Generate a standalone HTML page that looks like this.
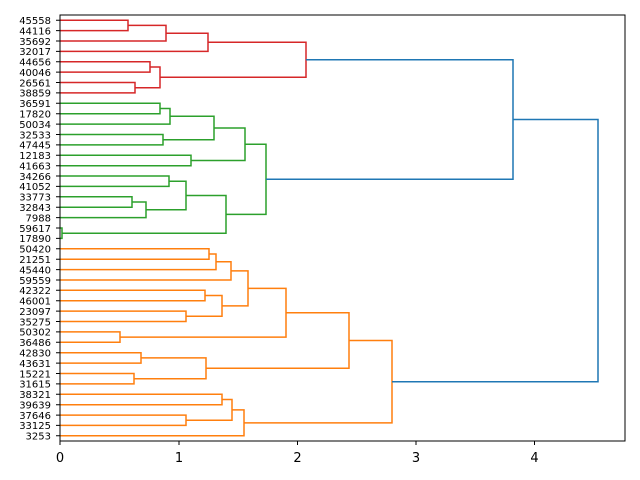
<!DOCTYPE html>
<html><head><meta charset="utf-8"><style>body{margin:0;background:#fff}svg{display:block}</style></head><body>
<svg width="640" height="480" xmlns="http://www.w3.org/2000/svg" font-family="DejaVu Sans, Liberation Sans, sans-serif">
<rect width="640" height="480" fill="#fff"/>
<g fill="none" stroke-width="1.5">
<g stroke="#d62728">
<path d="M60 20.2H128V30.6H60"/>
<path d="M128 25.4H166V41H60"/>
<path d="M166 33.2H208V51.4H60"/>
<path d="M60 61.8H150V72.1H60"/>
<path d="M60 82.5H135V92.9H60"/>
<path d="M150 66.95H160V87.7H135"/>
<path d="M208 42.3H306V77.3H160"/>
</g>
<g stroke="#2ca02c">
<path d="M60 103.3H160V113.7H60"/>
<path d="M160 108.5H170V124.1H60"/>
<path d="M60 134.5H163V144.9H60"/>
<path d="M170 116.3H214V139.7H163"/>
<path d="M60 155.3H191V165.7H60"/>
<path d="M214 128H245V160.5H191"/>
<path d="M60 176H169V186.4H60"/>
<path d="M60 196.8H132V207.2H60"/>
<path d="M132 202H146V217.6H60"/>
<path d="M169 181.2H186V209.8H146"/>
<path d="M60 228H62V238.4H60"/>
<path d="M186 195.5H226V233.2H62"/>
<path d="M245 144.25H266V214.35H226"/>
</g>
<g stroke="#ff7f0e">
<path d="M60 248.8H209V259.2H60"/>
<path d="M209 254H216V269.6H60"/>
<path d="M216 261.8H231V280H60"/>
<path d="M60 290.3H205V300.7H60"/>
<path d="M60 311.1H186V321.5H60"/>
<path d="M205 295.5H222V316.3H186"/>
<path d="M231 270.9H248V305.9H222"/>
<path d="M60 331.9H120V342.3H60"/>
<path d="M248 288.4H286V337.1H120"/>
<path d="M60 352.7H141V363.1H60"/>
<path d="M60 373.5H134V383.9H60"/>
<path d="M141 357.9H206V378.7H134"/>
<path d="M286 312.75H349V368.3H206"/>
<path d="M60 394.3H222V404.7H60"/>
<path d="M60 415.1H186V425.4H60"/>
<path d="M222 399.5H232V420.25H186"/>
<path d="M232 409.9H244V435.8H60"/>
<path d="M349 340.5H392V422.85H244"/>
</g>
<g stroke="#1f77b4">
<path d="M306 59.8H513V179.3H266"/>
<path d="M513 119.55H598V381.7H392"/>
</g>
</g>
<rect x="60" y="15" width="565" height="426" fill="none" stroke="#000" stroke-width="1"/>
<g stroke="#000" stroke-width="1">
<path d="M60 441v4M179 441v4M297.5 441v4M416 441v4M534.5 441v4"/>
</g>
<g font-size="13" text-anchor="middle" fill="#000">
<text x="60" y="462">0</text><text x="179" y="462">1</text><text x="297.5" y="462">2</text><text x="416" y="462">3</text><text x="534.5" y="462">4</text>
</g>
<g stroke="#000" stroke-width="1">
<path d="M56 20.2h4M56 30.6h4M56 41h4M56 51.4h4M56 61.8h4M56 72.1h4M56 82.5h4M56 92.9h4M56 103.3h4M56 113.7h4M56 124.1h4M56 134.5h4M56 144.9h4M56 155.3h4M56 165.7h4M56 176h4M56 186.4h4M56 196.8h4M56 207.2h4M56 217.6h4M56 228h4M56 238.4h4M56 248.8h4M56 259.2h4M56 269.6h4M56 280h4M56 290.3h4M56 300.7h4M56 311.1h4M56 321.5h4M56 331.9h4M56 342.3h4M56 352.7h4M56 363.1h4M56 373.5h4M56 383.9h4M56 394.3h4M56 404.7h4M56 415.1h4M56 425.4h4M56 435.8h4"/>
</g>
<g font-size="10" text-anchor="end" fill="#000">
<text x="51" y="24">45558</text><text x="51" y="34.4">44116</text><text x="51" y="44.8">35692</text><text x="51" y="55.2">32017</text><text x="51" y="65.6">44656</text><text x="51" y="75.9">40046</text><text x="51" y="86.3">26561</text><text x="51" y="96.7">38859</text><text x="51" y="107.1">36591</text><text x="51" y="117.5">17820</text><text x="51" y="127.9">50034</text><text x="51" y="138.3">32533</text><text x="51" y="148.7">47445</text><text x="51" y="159.1">12183</text><text x="51" y="169.5">41663</text><text x="51" y="179.8">34266</text><text x="51" y="190.2">41052</text><text x="51" y="200.6">33773</text><text x="51" y="211">32843</text><text x="51" y="221.4">7988</text><text x="51" y="231.8">59617</text><text x="51" y="242.2">17890</text><text x="51" y="252.6">50420</text><text x="51" y="263">21251</text><text x="51" y="273.4">45440</text><text x="51" y="283.8">59559</text><text x="51" y="294.1">42322</text><text x="51" y="304.5">46001</text><text x="51" y="314.9">23097</text><text x="51" y="325.3">35275</text><text x="51" y="335.7">50302</text><text x="51" y="346.1">36486</text><text x="51" y="356.5">42830</text><text x="51" y="366.9">43631</text><text x="51" y="377.3">15221</text><text x="51" y="387.7">31615</text><text x="51" y="398.1">38321</text><text x="51" y="408.5">39639</text><text x="51" y="418.9">37646</text><text x="51" y="429.2">33125</text><text x="51" y="439.6">3253</text>
</g>
</svg>
</body></html>
